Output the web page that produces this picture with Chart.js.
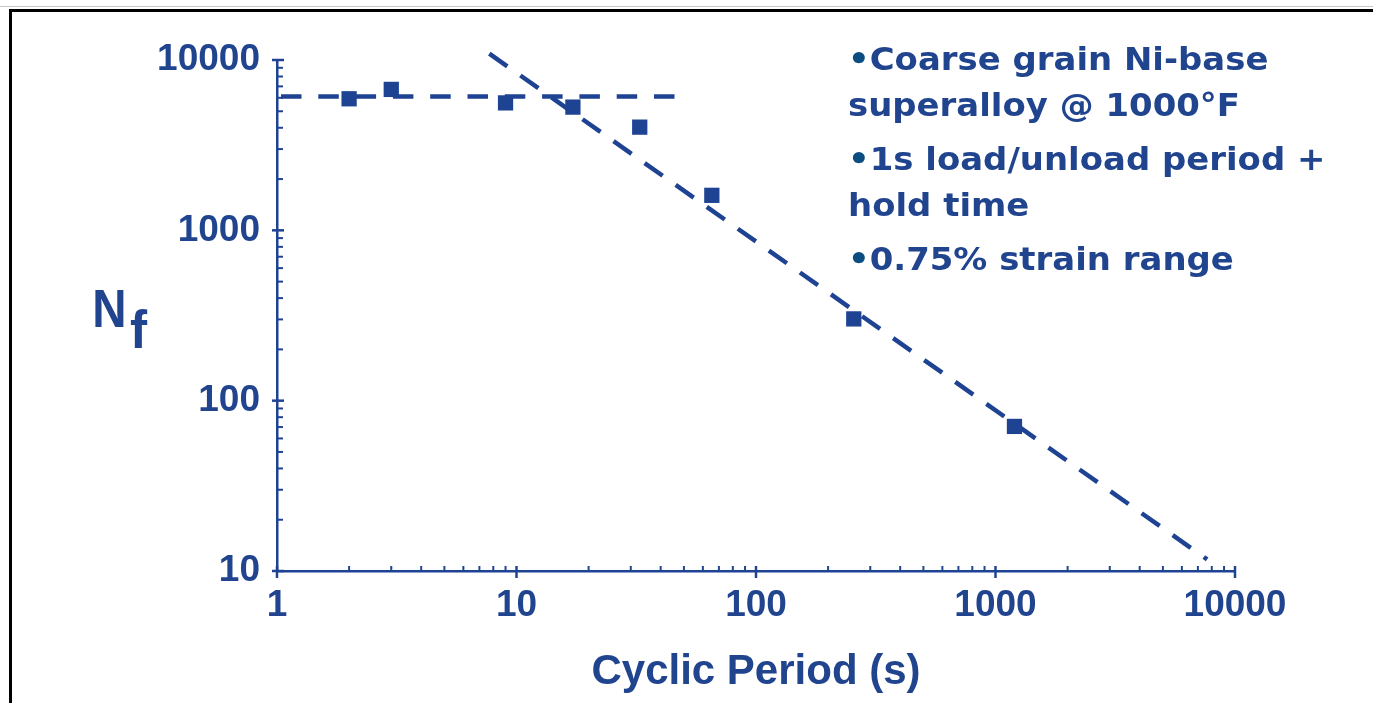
<!DOCTYPE html>
<html>
<head>
<meta charset="utf-8">
<script src="https://cdn.jsdelivr.net/npm/chart.js@4"></script>
<style>
    html, body { margin: 0; padding: 0; background: #fff; }
    #contenedor { position: relative; width: 1373px; height: 703px; overflow: hidden; }
    #marco { position: absolute; left: 9px; top: 9px; width: 2000px; height: 1000px; border-top: 3px solid #000; border-left: 3px solid #000; }
    #lineaGris { position: absolute; left: 0; top: 6px; width: 1373px; height: 1px; background: #c8c8c8; }
    #canvaVida { position: absolute; left: 0; top: 0; }
</style>
</head>
<body>
<div id="contenedor">
    <div id="lineaGris"></div>
    <div id="marco"></div>
    <canvas id="canvaVida" width="1373" height="703"></canvas>
</div>
<script>
// periodo del ciclo (s) y ciclos a falla de cada ensayo
const periodos = [2, 3, 9, 17.2, 32.7, 65.4, 256, 1200];
const ciclosFalla = [5920, 6720, 5600, 5290, 4035, 1605, 302, 70.6];

// meseta horizontal (periodos cortos)
const mesetaX = [1, 46];
const mesetaY = [6100, 6100];

// recta de pendiente -1 (periodos largos)
const pendienteX = [7.7, 7650];
const pendienteY = [10900, 11.7];

// decadas de los ejes
const decadasX = [1, 10, 100, 1000, 10000];
const decadasY = [10, 100, 1000, 10000];

const notas = [
    ["Coarse grain Ni-base", "superalloy @ 1000°F"],
    ["1s load/unload period +", "hold time"],
    ["0.75% strain range"]
];

const azul = '#1f4393';
const azulTexto = '#21448f';
const azulVineta = '#0b4d80';
const fuenteEjes = "'Liberation Sans', Arial, sans-serif";
const fuenteNotas = "'DejaVu Sans', 'Open Sans', sans-serif";

function puntos(xs, ys) {
    return xs.map((x, i) => ({ x: x, y: ys[i] }));
}

// ticks 1..9 por decada, los mayores son las potencias de 10
function ticksDecadas(decadas) {
    let ticks = [];
    decadas.forEach((d, i) => {
        if (i === decadas.length - 1) {
            ticks.push({ value: d, major: true });
            return;
        }
        for (let k = 1; k < 10; k++) {
            ticks.push({ value: d * k, major: k === 1 });
        }
    });
    return ticks;
}

const marcasEjes = {
    id: 'marcasEjes',
    afterDatasetsDraw(chart) {
        const ctx = chart.ctx;
        const area = chart.chartArea;
        const ejeX = chart.scales.x;
        const ejeY = chart.scales.y;
        ctx.save();
        ctx.strokeStyle = azul;
        ejeX.ticks.forEach(t => {
            const px = ejeX.getPixelForValue(t.value);
            ctx.lineWidth = t.major ? 2.5 : 2;
            ctx.beginPath();
            if (t.major) {
                ctx.moveTo(px, area.bottom - 5);
                ctx.lineTo(px, area.bottom + 7);
            } else {
                ctx.moveTo(px, area.bottom);
                ctx.lineTo(px, area.bottom - 5);
            }
            ctx.stroke();
        });
        ejeY.ticks.forEach(t => {
            const py = ejeY.getPixelForValue(t.value);
            ctx.lineWidth = t.major ? 2.5 : 2;
            ctx.beginPath();
            if (t.major) {
                ctx.moveTo(area.left - 5, py);
                ctx.lineTo(area.left + 7, py);
            } else {
                ctx.moveTo(area.left, py);
                ctx.lineTo(area.left + 6, py);
            }
            ctx.stroke();
        });
        ctx.restore();
    },
    afterDraw(chart) {
        const ctx = chart.ctx;
        ctx.save();
        // titulo del eje Y: N con subindice f
        ctx.fillStyle = azulTexto;
        ctx.textBaseline = 'alphabetic';
        ctx.textAlign = 'left';
        ctx.font = "bold 54px " + fuenteEjes;
        ctx.save();
        ctx.translate(94, 327);
        ctx.scale(0.88, 1);
        ctx.fillText('N', -2, 0);
        ctx.restore();
        ctx.save();
        ctx.translate(130, 348);
        ctx.scale(0.95, 1);
        ctx.fillText('f', 0, 0);
        ctx.restore();

        // notas con viñetas, algo ensanchadas
        ctx.font = "bold 32px " + fuenteNotas;
        const izquierda = 848;
        let base = 70;
        notas.forEach((parrafo, i) => {
            parrafo.forEach((linea, j) => {
                ctx.save();
                ctx.translate(izquierda, base);
                ctx.scale(1.06, 1);
                let x = 0;
                if (j === 0) {
                    ctx.fillStyle = azulVineta;
                    ctx.fillText('•', x, 0);
                    x += ctx.measureText('•').width;
                }
                ctx.fillStyle = azulTexto;
                ctx.fillText(linea, x, 0);
                ctx.restore();
                base += 46;
            });
            base += 8;
        });
        ctx.restore();
    }
};

document.addEventListener("DOMContentLoaded", function() {
    new Chart(document.getElementById('canvaVida'), {
        type: 'scatter',
        data: {
            datasets: [{
                label: "Ensayos",
                data: puntos(periodos, ciclosFalla),
                pointStyle: 'rect',
                pointRadius: 10.8,
                pointBackgroundColor: azul,
                pointBorderWidth: 0,
                showLine: false
            }, {
                label: "Meseta",
                data: puntos(mesetaX, mesetaY),
                showLine: true,
                borderColor: azul,
                borderWidth: 4.5,
                borderDash: [20.5, 16.8],
                borderDashOffset: 33.3,
                pointRadius: 0,
                clip: false
            }, {
                label: "Pendiente",
                data: puntos(pendienteX, pendienteY),
                showLine: true,
                borderColor: azul,
                borderWidth: 4.5,
                borderDash: [22, 16],
                pointRadius: 0,
                clip: false
            }]
        },
        options: {
            responsive: false,
            animation: false,
            layout: {
                padding: { left: 0, top: 60, right: 138, bottom: 0 }
            },
            plugins: {
                legend: { display: false },
                tooltip: { enabled: false }
            },
            scales: {
                x: {
                    type: 'logarithmic',
                    min: 1,
                    max: 10000,
                    grid: { display: false },
                    border: { display: true, color: azul, width: 2.5 },
                    afterBuildTicks: (eje) => { eje.ticks = ticksDecadas(decadasX); },
                    afterFit: (eje) => { eje.height = 132; },
                    ticks: {
                        autoSkip: false,
                        maxRotation: 0,
                        padding: 5,
                        color: azulTexto,
                        font: { family: fuenteEjes, size: 37, weight: 'bold' },
                        callback: (valor) => decadasX.includes(valor) ? String(valor) : ''
                    },
                    title: {
                        display: true,
                        text: 'Cyclic Period (s)',
                        color: azulTexto,
                        font: { family: fuenteEjes, size: 42, weight: 'bold' },
                        padding: { top: 0, bottom: 5 }
                    }
                },
                y: {
                    type: 'logarithmic',
                    min: 10,
                    max: 10000,
                    grid: { display: false },
                    border: { display: true, color: azul, width: 2.5 },
                    afterBuildTicks: (eje) => { eje.ticks = ticksDecadas(decadasY); },
                    afterFit: (eje) => { eje.width = 277; },
                    ticks: {
                        autoSkip: false,
                        padding: 9,
                        color: azulTexto,
                        font: { family: fuenteEjes, size: 37, weight: 'bold' },
                        callback: (valor) => decadasY.includes(valor) ? String(valor) : ''
                    }
                }
            }
        },
        plugins: [marcasEjes]
    });
});
</script>
</body>
</html>
